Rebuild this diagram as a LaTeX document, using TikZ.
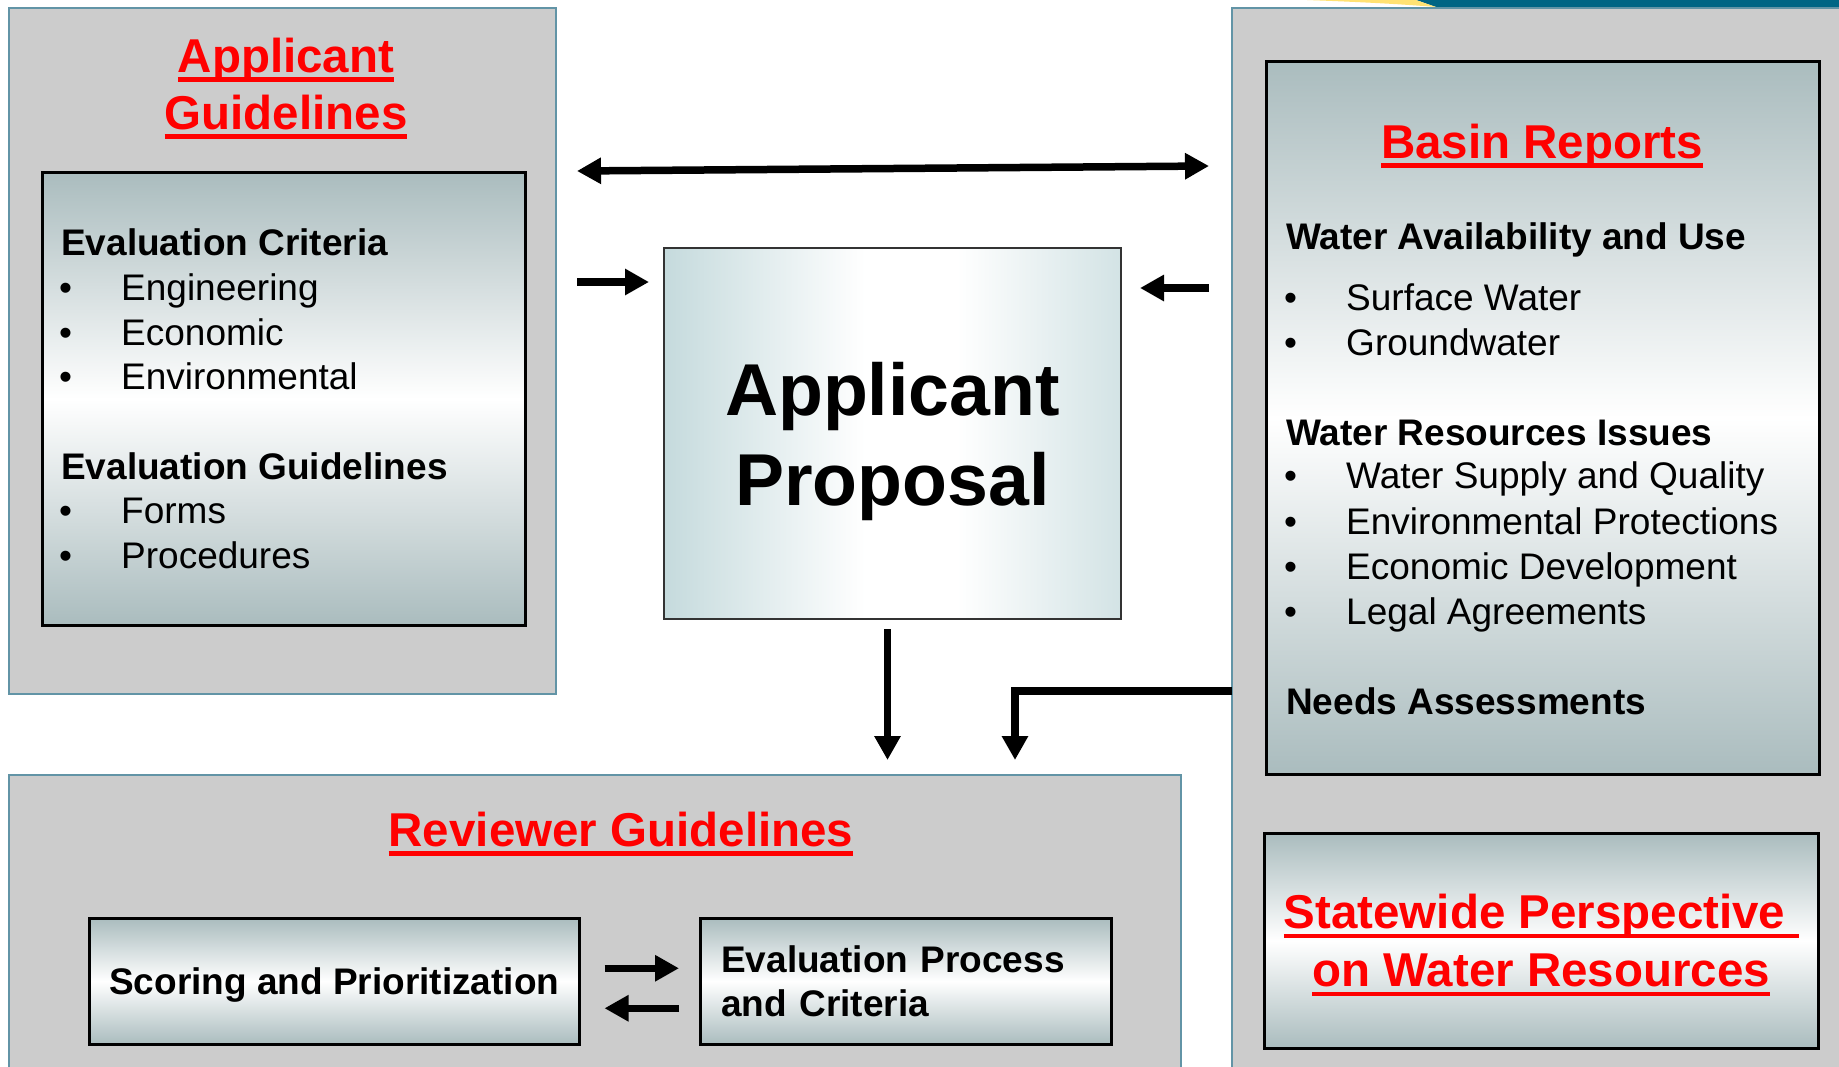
\documentclass[tikz,border=0pt]{standalone}
\usepackage{fontspec}
\setmainfont{Liberation Sans}
\usetikzlibrary{positioning,arrows.meta}
\definecolor{panelgray}{RGB}{204,204,204}
\definecolor{panelrim}{RGB}{98,148,166}
\definecolor{cardteal}{RGB}{170,188,190}
\definecolor{mistteal}{RGB}{204,226,229}
\definecolor{mistdeep}{RGB}{184,210,213}
\definecolor{titlered}{RGB}{255,0,0}
\definecolor{bandteal}{RGB}{0,101,132}
\definecolor{bandyellow}{RGB}{255,226,115}
\pgfdeclarehorizontalshading{proposalglow}{100bp}{color(0bp)=(mistteal); color(20bp)=(mistdeep); color(47bp)=(white); color(57bp)=(white); color(86bp)=(mistdeep); color(100bp)=(mistteal)}
\newsavebox\ulbox
\newcommand\redul[1]{\sbox\ulbox{#1}\makebox[0pt][l]{\rule[-0.2em]{\wd\ulbox}{0.095em}}\usebox\ulbox}

\begin{document}
\begin{tikzpicture}[x=1pt,y=-1pt,
  panel/.style={draw=panelrim,line width=1.5pt,fill=panelgray,anchor=north west,inner sep=0pt},
  card/.style={draw=black,line width=2.5pt,top color=cardteal,bottom color=cardteal,middle color=white,anchor=north west,inner sep=0pt,text depth=0pt},
  titletext/.style={anchor=base,inner sep=0pt,text=titlered,font=\fontsize{47.5}{58}\selectfont\bfseries},
  headtext/.style={anchor=base west,inner sep=0pt,font=\fontsize{37}{45}\selectfont\bfseries},
  itemtext/.style={anchor=base west,inner sep=0pt,font=\fontsize{37}{45}\selectfont},
  fatarrow/.style={line width=7.5pt,-{Triangle[length=24pt,width=25pt]}},
  linkarrow/.style={line width=7.5pt,{Triangle[length=24pt,width=25pt]}-{Triangle[length=24pt,width=25pt]}}]
  \useasboundingbox (0,0) rectangle (1839,1066);
  \clip (0,0) rectangle (1839,1066);
  \fill[white] (0,0) rectangle (1839,1066);
  % slide header strip
  \fill[bandteal] (1416,0) -- (1839,0) -- (1839,7) -- (1436,7) -- cycle;
  \fill[bandyellow] (1307,0) .. controls (1360,2) and (1400,4) .. (1436,7) -- (1416,0) -- cycle;
  % panels
  \node[panel,minimum width=547pt,minimum height=686pt] (appPanel) at (8,7) {};
  \node[panel,minimum width=1172pt,minimum height=320pt] (reviewPanel) at (8,774) {};
  \node[panel,minimum width=640pt,minimum height=1080pt] (basinPanel) at (1231,7) {};
  % applicant guidelines
  \node[titletext] (appTitleA) at (286,72) {\redul{Applicant}};
  \node[titletext] (appTitleB) at (286,129) {\redul{Guidelines}};
  \node[card,minimum width=483pt,minimum height=453pt] (appCard) at (41,171) {};
  \node[headtext] (critHead) at (61,255) {Evaluation Criteria};
  \node[headtext] (guideHead) at (61,479) {Evaluation Guidelines};
  \foreach \nm/\yy/\txt in {critA/300/Engineering,critB/345/Economic,critC/389/Environmental,guideA/523/Forms,guideB/568/Procedures}{
    \node[itemtext] (dot\nm) at (59,\yy) {\textbullet};\node[itemtext] (\nm) at (121,\yy) {\txt};}
  % proposal
  \node[draw=black!80,line width=2pt,shade,shading=proposalglow,anchor=north west,minimum width=457pt,minimum height=371pt,inner sep=0pt,text depth=0pt,align=center,font=\fontsize{73.5}{90}\selectfont\bfseries] (proposal) at (663,247) {Applicant\\Proposal};
  % basin reports
  \node[card,minimum width=553pt,minimum height=713pt] (basinCard) at (1265,60) {};
  \node[titletext] (basinTitle) at (1542,158) {\redul{Basin Reports}};
  \node[headtext] (useHead) at (1286,249) {Water Availability and Use};
  \node[headtext] (issueHead) at (1286,445) {Water Resources Issues};
  \node[headtext] (needsHead) at (1286,714) {Needs Assessments};
  \foreach \nm/\yy/\txt in {useA/310/Surface Water,useB/355/Groundwater,issueA/488/Water Supply and Quality,issueB/534/Environmental Protections,issueC/579/Economic Development,issueD/624/Legal Agreements}{
    \node[itemtext] (dot\nm) at (1284,\yy) {\textbullet};\node[itemtext] (\nm) at (1346,\yy) {\txt};}
  % statewide perspective
  \node[card,minimum width=554pt,minimum height=215pt,align=center,text=titlered,font=\fontsize{47.5}{58}\selectfont\bfseries] (stateCard) at (1263,832) {\redul{Statewide Perspective\ }\\\redul{on Water Resources}};
  % reviewer guidelines
  \node[titletext] (reviewTitle) at (621,846) {\redul{Reviewer Guidelines}};
  \node[card,minimum width=490pt,minimum height=126pt,font=\fontsize{37}{44}\selectfont\bfseries] (scoring) at (88,917) {Scoring and Prioritization};
  \node[card,minimum width=411pt,minimum height=126pt,text width=369pt,text depth=44pt,align=left,font=\fontsize{37}{44}\selectfont\bfseries] (evalProc) at (699,917) {Evaluation Process\\and Criteria};
  % connectors
  \coordinate (linkW) at (577,171); \coordinate (linkE) at (1209,166);
  \draw[linkarrow] (linkW) -- (linkE);
  \coordinate (feedW) at (577,282); \coordinate (feedE) at (1209,288);
  \draw[fatarrow,shorten >=14pt] (feedW) -- (feedW -| proposal.west);
  \draw[fatarrow,shorten >=18pt] (feedE) -- (feedE -| proposal.east);
  \draw[fatarrow,shorten <=9pt,shorten >=14pt] ([xshift=-5pt]proposal.south) -- ([xshift=-5pt]proposal.south |- reviewPanel.north);
  \coordinate (needsTap) at (1232,691); \coordinate (needsDrop) at (1015,774);
  \draw[fatarrow,shorten >=14pt] (needsTap) -| (needsDrop);
  \draw[fatarrow,shorten <=24pt,shorten >=20pt] ([yshift=13pt]scoring.east) -- ([yshift=13pt]evalProc.west);
  \draw[fatarrow,shorten <=20pt,shorten >=24pt] ([yshift=-27pt]evalProc.west) -- ([yshift=-27pt]scoring.east);
\end{tikzpicture}
\end{document}
